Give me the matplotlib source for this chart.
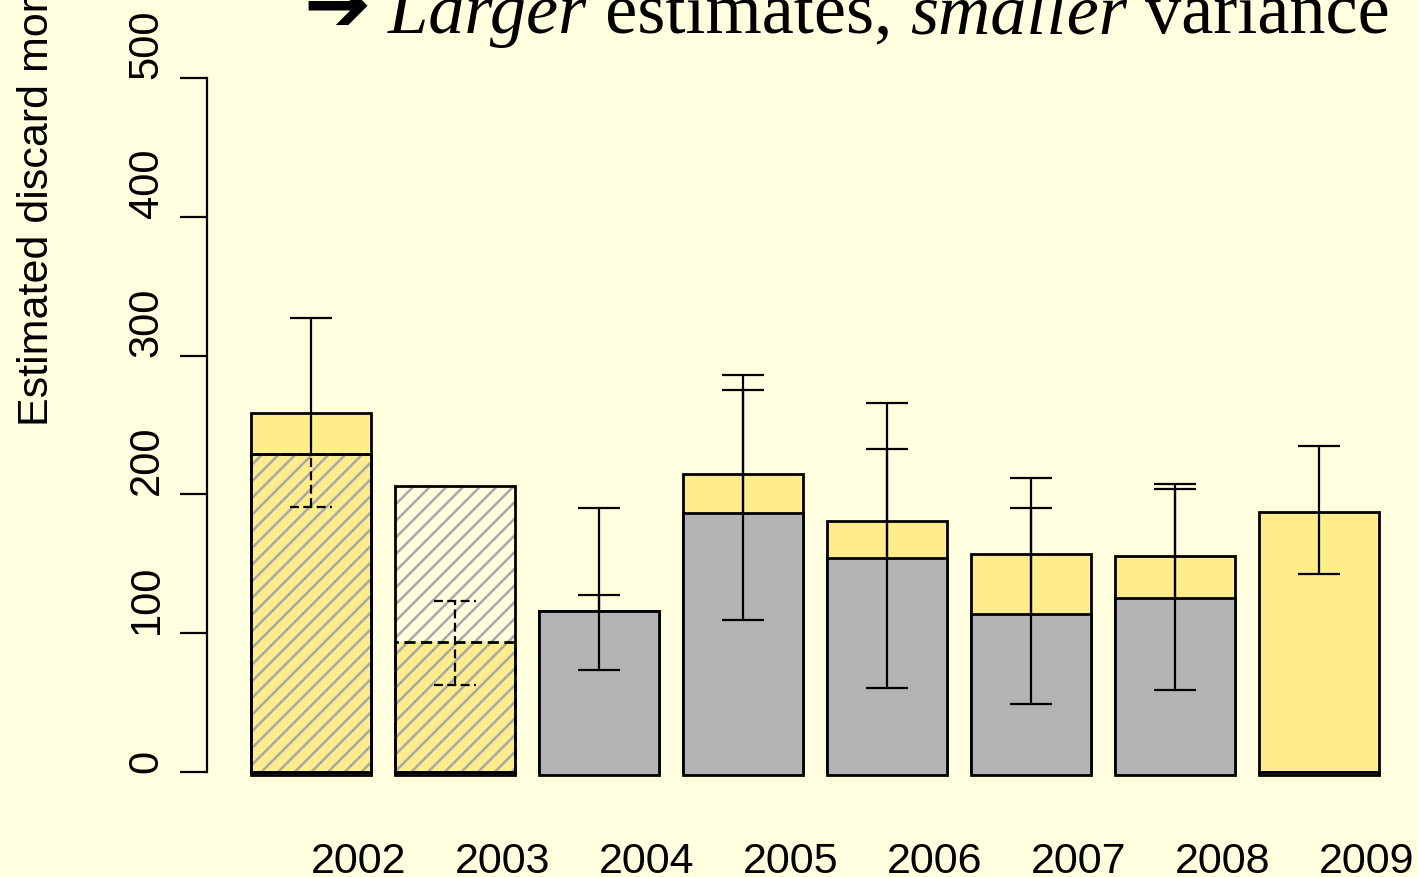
import numpy as np
import matplotlib
matplotlib.use("Agg")
import matplotlib.pyplot as plt

years = ["2002", "2003", "2004", "2005", "2006", "2007", "2008", "2009"]
# new (yellow) estimates, solid outline
new_est = [258.8, np.nan, 115.7, 215.0, 180.9, 157.1, 155.3, 187.6]
new_hi = [326.8, np.nan, 127.7, 275.1, 233.0, 190.3, 204.0, 234.7]
new_lo = [np.nan, np.nan, np.nan, np.nan, np.nan, np.nan, np.nan, 142.4]
# old (grey) estimates
old_est = [0, 0, 115.7, 186.9, 154.4, 113.8, 125.3, 0]
old_hi = [np.nan, np.nan, 190.3, 285.9, 266.2, 211.9, 207.8, np.nan]
old_lo = [np.nan, np.nan, 73.6, 109.2, 60.6, 49.3, 58.9, np.nan]
# partial years (hatched / dashed)
part_old = [228.9, 206.1, np.nan, np.nan, np.nan, np.nan, np.nan, np.nan]
part_new = [228.9, 94.0, np.nan, np.nan, np.nan, np.nan, np.nan, np.nan]
part_hi = [np.nan, 122.9, np.nan, np.nan, np.nan, np.nan, np.nan, np.nan]
part_lo = [191.0, 63.0, np.nan, np.nan, np.nan, np.nan, np.nan, np.nan]

bg = "#FFFFE0"
yellow = "#FFEC8B"
grey = "#B3B3B3"
plt.rcParams["hatch.linewidth"] = 1.8

fig = plt.figure(figsize=(14.18, 8.78), dpi=100, facecolor=bg)
ax = fig.add_axes([207 / 1418, 1 - 773 / 878, 1 - 207 / 1418, (773 - 79) / 878])
ax.set_facecolor(bg)

x = 0.7 + 1.2 * np.arange(len(years))
cap = 0.175
lw = 2.0
elw = 1.6
dash = (0, (4, 2))

# yellow totals + their upper error bars
ax.bar(x, new_est, width=1, color=yellow, edgecolor="black", linewidth=lw, clip_on=False, zorder=2)
base = np.nanmax(np.vstack([old_est, part_old]), axis=0)
for xi, h, lo, b in zip(x, new_hi, new_lo, base):
    if np.isnan(h):
        continue
    bottom = lo if not np.isnan(lo) else b
    ax.vlines(xi, bottom, h, color="black", linewidth=elw, zorder=3)
    ax.hlines(h, xi - cap, xi + cap, color="black", linewidth=elw, zorder=3)
    if not np.isnan(lo):
        ax.hlines(lo, xi - cap, xi + cap, color="black", linewidth=elw, zorder=3)

# dashed yellow (partial) fill
ax.bar(x, part_new, width=1, color=yellow, linewidth=0, clip_on=False, zorder=4)

# grey bars on top
ob = np.array(old_est, dtype=float)
ax.bar(x, ob + 2, bottom=-2, width=1, color=grey, edgecolor="black", linewidth=lw, clip_on=False, zorder=4)

# hatched partial bars
ax.bar(x, part_old, width=1, fill=False, hatch="//", edgecolor="#A8A8A8", linewidth=0, clip_on=False, zorder=5)
ax.bar(x, part_old, width=1, fill=False, edgecolor="black", linewidth=lw, clip_on=False, zorder=6)
ax.bar(x, part_new, width=1, fill=False, edgecolor="black", linewidth=lw, linestyle=dash, clip_on=False, zorder=6)

# grey error bars
for xi, lo, hi in zip(x, old_lo, old_hi):
    if np.isnan(lo):
        continue
    ax.vlines(xi, lo, hi, color="black", linewidth=elw, zorder=7)
    ax.hlines([lo, hi], xi - cap, xi + cap, color="black", linewidth=elw, zorder=7)

# dashed error bars for partial years
for xi, lo, hi, top in zip(x, part_lo, part_hi, part_new):
    if np.isnan(lo):
        continue
    upper = hi if not np.isnan(hi) else top
    ax.vlines(xi, lo, upper, color="black", linewidth=elw, linestyle=dash, zorder=7)
    ax.hlines(lo, xi - cap, xi + cap, color="black", linewidth=elw, linestyle=dash, zorder=7)
    if not np.isnan(hi):
        ax.hlines(hi, xi - cap, xi + cap, color="black", linewidth=elw, linestyle=dash, zorder=7)

ax.set_xlim((207 - 227.2) / 119.95, (1418 - 227.2) / 119.95)
ax.set_ylim(0, 500)
for s in ["top", "right", "bottom"]:
    ax.spines[s].set_visible(False)
ax.spines["left"].set_bounds(0, 500)
ax.spines["left"].set_linewidth(1.6)

ax.set_yticks([0, 100, 200, 300, 400, 500])
ax.tick_params(axis="y", length=19.4, width=1.6, pad=9.6, labelsize=30, labelrotation=90)
for lab in ax.get_yticklabels():
    lab.set_va("bottom")
    lab.set_fontfamily("Liberation Sans")

ax.set_xticks(x)
ax.set_xticklabels(years, fontsize=31, fontfamily="Liberation Sans", ha="left")
ax.tick_params(axis="x", length=0, pad=50)

ax.set_ylabel("Estimated discard mortality (mt)", fontsize=31, fontfamily="Liberation Sans")
ax.yaxis.label.set(ha="left", va="center")
ax.yaxis.set_label_coords((37 - 207) / 1211, 0.5)

# title built from pieces, partly cut off at the top like the original slide
tfs = 52
t = fig.text(303 / 1418, 1 - 31 / 878, "\u2794", fontsize=58, fontfamily="DejaVu Sans",
             fontweight="bold", va="baseline", ha="left")
pieces = [(" Larger", "italic"), (" estimates, ", "normal"), ("smaller", "italic"), (" variance", "normal")]
prev = t
for txt, style in pieces:
    prev = ax.annotate(txt, xy=(1, 0), xycoords=prev, va="bottom", ha="left",
                       fontsize=tfs, fontfamily="Liberation Serif", fontstyle=style,
                       annotation_clip=False)

fig.savefig("out.png", dpi=100, facecolor=bg)
